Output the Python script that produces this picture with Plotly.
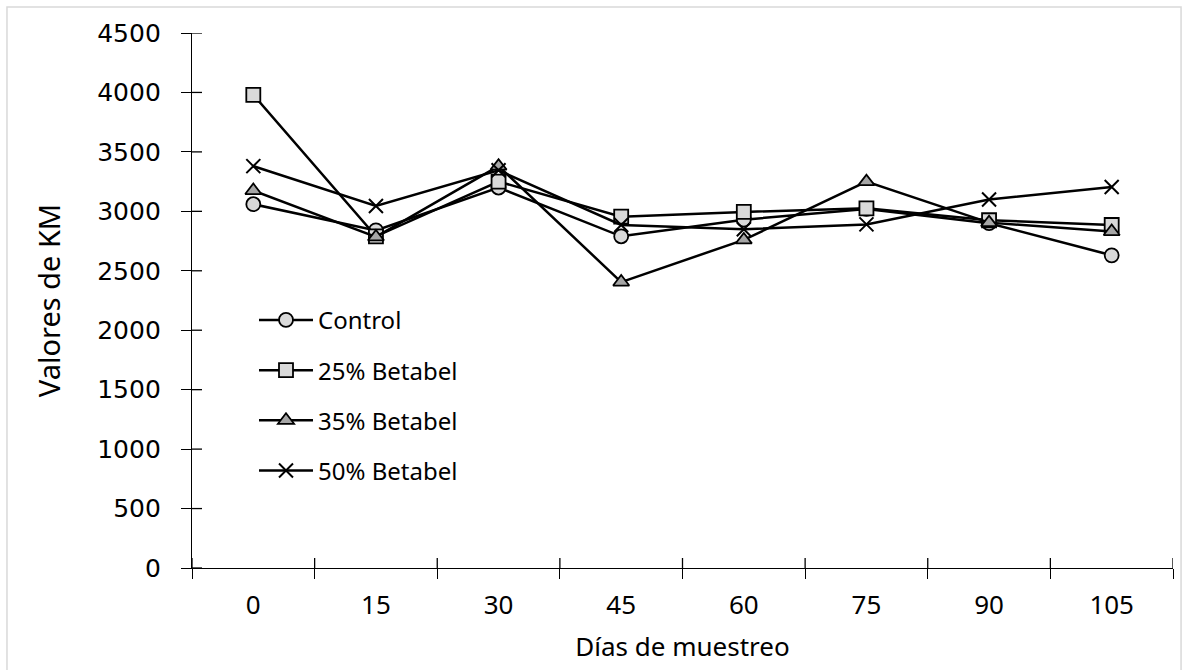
import plotly.graph_objects as go

dias = ["0", "15", "30", "45", "60", "75", "90", "105"]
control = [3060, 2840, 3200, 2790, 2930, 3020, 2900, 2630]
betabel_25 = [3980, 2790, 3250, 2955, 2995, 3025, 2925, 2885]
betabel_35 = [3175, 2785, 3380, 2405, 2760, 3250, 2905, 2830]
betabel_50 = [3380, 3045, 3345, 2885, 2850, 2890, 3100, 3205]
y_ticks = [0, 500, 1000, 1500, 2000, 2500, 3000, 3500, 4000, 4500]

series = [
    ("Control", control, "circle", "#d9d9d9"),
    ("25% Betabel", betabel_25, "square", "#d9d9d9"),
    ("35% Betabel", betabel_35, "triangle-up", "#a6a6a6"),
    ("50% Betabel", betabel_50, "x-thin", "#000000"),
]

FONT = "Noto Sans"
fig = go.Figure()
for i, (name, vals, sym, col) in enumerate(series):
    marker = dict(symbol=sym, size=14, color=col, line=dict(color="black", width=1.8))
    if sym == "x-thin":
        marker = dict(symbol=sym, size=14, line=dict(color="black", width=2))
    fig.add_trace(go.Scatter(
        x=dias, y=vals, name=name, mode="lines+markers",
        line=dict(color="black", width=2.5), marker=marker,
        legendgroup=f"g{i}",
    ))

n = len(dias)
TL = 10
fig.update_layout(
    width=1186, height=670,
    margin=dict(l=192, r=13, t=33, b=102),
    paper_bgcolor="white", plot_bgcolor="white",
    font=dict(family=FONT, size=24, color="black"),
    showlegend=True,
    legend=dict(x=0.0632, y=0.505, xanchor="left", yanchor="top",
                bgcolor="rgba(0,0,0,0)", font=dict(size=24, family=FONT),
                tracegroupgap=16, itemwidth=54),
    xaxis=dict(type="category", categoryarray=dias, range=[-0.5, n - 0.5],
               tickson="boundaries", ticks="outside", ticklen=TL, tickwidth=1.3,
               tickcolor="black", showline=True, linecolor="black", linewidth=1.3,
               showgrid=False, zeroline=False, ticklabelstandoff=14,
               tickfont=dict(family=FONT, size=26),
               title=dict(text="Días de muestreo", standoff=16,
                          font=dict(size=26, family=FONT))),
    yaxis=dict(range=[0, 4500], tickvals=y_ticks, ticks="outside", ticklen=TL,
               tickwidth=1.3, tickcolor="black", showline=True, linecolor="black",
               linewidth=1.3, showgrid=False, zeroline=False, ticklabelstandoff=15,
               tickfont=dict(family="DejaVu Sans", size=25),
               title=dict(text="Valores de KM", standoff=28,
                          font=dict(size=29, family=FONT))),
)

# inner half of the crossing tick marks (Excel "cross" style), placed on the axis scales
tick_line = dict(color="black", width=1.3)
for k in range(n + 1):
    fig.add_shape(type="line", xref="x", yref="y", x0=k - 0.5, x1=k - 0.5,
                  ysizemode="pixel", yanchor=0, y0=0, y1=TL, line=tick_line)
for v in y_ticks:
    fig.add_shape(type="line", xref="x", yref="y", y0=v, y1=v,
                  xsizemode="pixel", xanchor=-0.5, x0=0, x1=TL, line=tick_line)

fig.add_shape(type="rect", xref="paper", yref="paper",
              x0=-0.1886, x1=1.0082, y0=-0.2, y1=1.0486,
              line=dict(color="#d9d9d9", width=1.5), fillcolor="rgba(0,0,0,0)",
              layer="below")

fig.write_html("out.html", config={"displayModeBar": False},
               post_script="document.body.style.margin='0';")
